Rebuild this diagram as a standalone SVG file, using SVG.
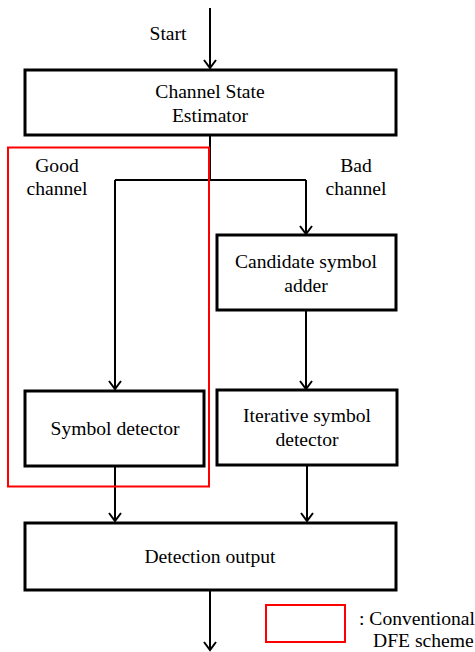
<svg xmlns="http://www.w3.org/2000/svg" width="475" height="652" viewBox="0 0 475 652">
<style>
.box{fill:#fff;stroke:#000;stroke-width:3}
.red{fill:none;stroke:#f00;stroke-width:2}
.ln{fill:none;stroke:#000;stroke-width:2}
.t{font-family:'Liberation Serif','Times New Roman',Times,serif;font-size:19.6px;fill:#000}
.c{text-anchor:middle}
</style>
<rect width="475" height="652" fill="#fff"/>
<g id="connectors">
<path class="ln" d="M210,8 V68 M204,60 L210,68 L216,60"/>
<path class="ln" d="M210,136 V180 M115,180 H306"/>
<path class="ln" d="M115,180 V389 M109,381 L115,389 L121,381"/>
<path class="ln" d="M306,180 V234 M300,226 L306,234 L312,226"/>
<path class="ln" d="M306,310 V389 M300,381 L306,389 L312,381"/>
<path class="ln" d="M115,466 V521 M109,513 L115,521 L121,513"/>
<path class="ln" d="M307,465 V521 M301,513 L307,521 L313,513"/>
<path class="ln" d="M210,590 V650 M204,642 L210,650 L216,642"/>
</g>
<g id="start"><text class="t c" x="168" y="40">Start</text></g>
<g id="cse">
<rect class="box" x="25" y="70" width="371" height="65"/>
<text class="t c" x="210" y="98">Channel State</text>
<text class="t c" x="210" y="122">Estimator</text>
</g>
<g id="good"><text class="t c" x="57" y="172">Good</text><text class="t c" x="57" y="195">channel</text></g>
<g id="bad"><text class="t c" x="356" y="172">Bad</text><text class="t c" x="356" y="195">channel</text></g>
<g id="candidate">
<rect class="box" x="217" y="235" width="179" height="75"/>
<text class="t c" x="306" y="268">Candidate symbol</text>
<text class="t c" x="306" y="292">adder</text>
</g>
<g id="iterative">
<rect class="box" x="217" y="390" width="180" height="75"/>
<text class="t c" x="307" y="422">Iterative symbol</text>
<text class="t c" x="307" y="446">detector</text>
</g>
<g id="symdet">
<rect class="box" x="25" y="391" width="179" height="75"/>
<text class="t c" x="115" y="435">Symbol detector</text>
</g>
<g id="dfe"><rect class="red" x="8" y="147.5" width="201" height="339"/></g>
<g id="output">
<rect class="box" x="25" y="523" width="371" height="67"/>
<text class="t c" x="210" y="563">Detection output</text>
</g>
<g id="legend">
<rect class="red" x="266" y="605" width="79" height="37"/>
<text class="t" x="359" y="625">: Conventional</text>
<text class="t" x="373" y="647">DFE scheme</text>
</g>
</svg>
